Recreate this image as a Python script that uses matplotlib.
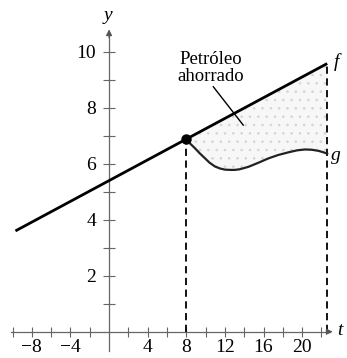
import matplotlib
matplotlib.use("Agg")
import matplotlib.pyplot as plt
import numpy as np

# Data
f_t = [-9.7, 8.0, 22.6]
f_y = [3.6, 6.88, 9.58]
g_t = [8.0, 8.4, 8.91, 9.4, 9.95, 10.4, 10.98, 11.5, 12.0, 12.54, 13.0, 13.5, 14.44,
       15.5, 16.5, 17.5, 18.6, 19.5, 20.3, 21.0, 21.7, 22.2, 22.6]
g_y = [6.88, 6.72, 6.55, 6.37, 6.19, 6.04, 5.90, 5.83, 5.79, 5.78, 5.78, 5.80, 5.89,
       6.04, 6.19, 6.31, 6.41, 6.48, 6.51, 6.50, 6.46, 6.41, 6.36]
x_major = [-8, -4, 4, 8, 12, 16, 20]
x_minor = [-10, -6, -2, 2, 6, 10, 14, 18, 22]
y_major = [2, 4, 6, 8, 10]
y_minor = [1, 3, 5, 7, 9]

plt.rcParams['font.family'] = 'serif'
plt.rcParams['font.serif'] = ['Liberation Serif', 'DejaVu Serif']
plt.rcParams['hatch.linewidth'] = 0.6

fig = plt.figure(figsize=(3.47, 3.58), dpi=100)
ax = fig.add_axes([0, 0, 1, 1])
ax.set_xlim(-11.3, 24.65)
ax.set_ylim(-0.94, 11.85)

for s in ['top', 'right']:
    ax.spines[s].set_visible(False)
ax.spines['left'].set_position(('data', 0))
ax.spines['bottom'].set_position(('data', 0))
for s in ['left', 'bottom']:
    ax.spines[s].set_linestyle((0, (1, 1)))
    ax.spines[s].set_color('#666666')
    ax.spines[s].set_linewidth(0.9)
ax.spines['left'].set_bounds(-0.7, 10.7)
ax.spines['bottom'].set_bounds(-10.2, 23.0)

ax.set_xticks(x_major)
ax.set_xticks(x_minor, minor=True)
ax.set_yticks(y_major)
ax.set_yticks(y_minor, minor=True)
ax.set_xticklabels([str(v).replace('-', '\u2212') for v in x_major], fontsize=14)
ax.set_yticklabels([str(v) for v in y_major], fontsize=14)
ax.tick_params(axis='both', which='both', direction='inout', color='#666666', width=0.8)
ax.tick_params(axis='x', which='both', length=7, pad=2)
ax.tick_params(axis='y', which='both', length=9, pad=5)

# arrows
ax.annotate('', xy=(23.45, 0), xytext=(22.6, 0),
            arrowprops=dict(arrowstyle='-|>', color='#555555', lw=0.8, mutation_scale=9))
ax.annotate('', xy=(0, 10.9), xytext=(0, 10.4),
            arrowprops=dict(arrowstyle='-|>', color='#555555', lw=0.8, mutation_scale=9))

# fill region
poly_t = [f_t[1], f_t[2]] + g_t[::-1]
poly_y = [f_y[1], f_y[2]] + g_y[::-1]
ax.fill(poly_t, poly_y, facecolor='#f7f7f7', edgecolor='none', zorder=1)
ax.fill(poly_t, poly_y, facecolor='none', edgecolor='#d4d4d4', hatch='..', linewidth=0, zorder=1)

# dashed verticals
ax.plot([f_t[1], f_t[1]], [0, f_y[1]], color='black', lw=1.3, ls=(0, (4, 2.5)), zorder=2)
ax.plot([f_t[2], f_t[2]], [0, f_y[2]], color='black', lw=1.3, ls=(0, (4, 2.5)), zorder=2)

# curves
ax.plot(f_t, f_y, color='black', lw=2.0, solid_capstyle='butt', zorder=3)
ax.plot(g_t, g_y, color='#222222', lw=1.6, zorder=3)
ax.plot([f_t[1]], [f_y[1]], 'o', color='black', ms=6.5, zorder=4)

# labels
ax.text(23.3, 9.65, 'f', fontsize=14, style='italic', va='center', ha='left')
ax.text(23.0, 6.3, 'g', fontsize=14, style='italic', va='center', ha='left')
ax.text(23.65, 0.05, 't', fontsize=14, style='italic', va='center', ha='left')
ax.text(-0.15, 11.3, 'y', fontsize=14, style='italic', va='center', ha='center')
ax.text(10.5, 9.42, 'Petróleo\nahorrado', fontsize=13.5, ha='center', va='center', linespacing=1.0)
ax.plot([10.8, 13.9], [8.75, 7.38], color='black', lw=1.0, zorder=3)

fig.savefig('out.png', dpi=100)
